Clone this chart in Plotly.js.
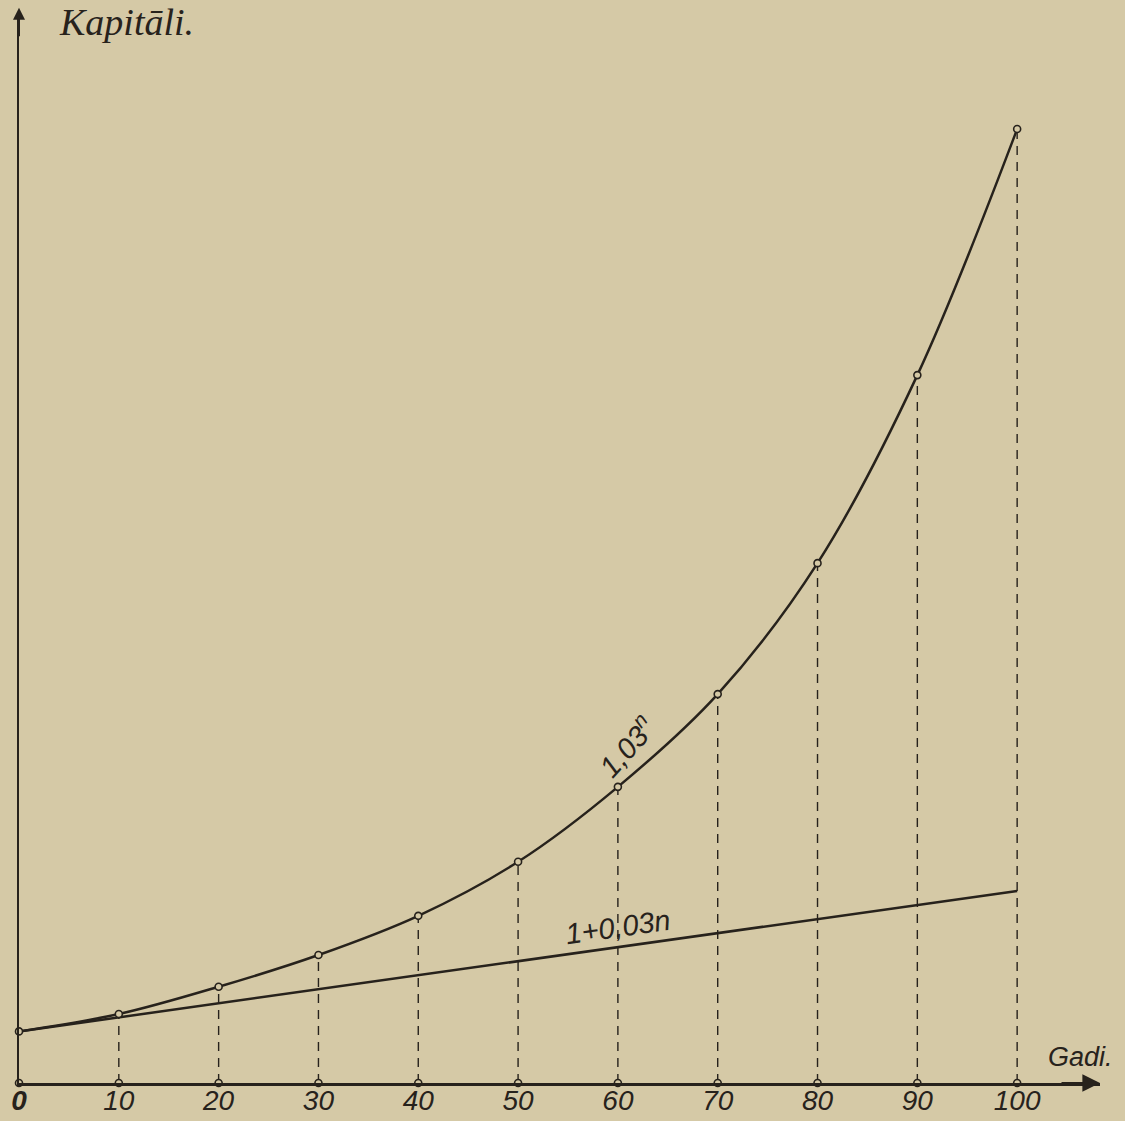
<!DOCTYPE html>
<html>
<head>
<meta charset="utf-8">
<script src="https://cdn.plot.ly/plotly-3.0.1.min.js"></script>
<style>
  html, body { margin: 0; padding: 0; background: #d5c9a6; }
  #chart { width: 1125px; height: 1121px; }
</style>
</head>
<body>
<div id="chart"></div>
<script>
// Years (Gadi)
const years = [0, 10, 20, 30, 40, 50, 60, 70, 80, 90, 100];
// Capital with compound interest 1,03^n
const compound = [1.04, 1.39, 1.94, 2.58, 3.37, 4.46, 5.97, 7.84, 10.48, 14.27, 19.23];
// Capital with simple interest 1+0,03n (straight line, end points)
const simpleYears = [0, 100];
const simple = [1.04, 3.87];
// Tick labels of the x axis
const tickLabels = ['<b>0</b>', '10', '20', '30', '40', '50', '60', '70', '80', '90', '100'];

const ink = '#27221c';
const paper = '#d5c9a6';

// dashed drop lines built from the data
const dropX = [], dropY = [];
years.forEach((x, i) => {
  if (x === 0) return;
  dropX.push(x, x, null);
  dropY.push(0, compound[i], null);
});

const traces = [
  {
    x: dropX, y: dropY, mode: 'lines', type: 'scatter',
    line: { color: ink, width: 1.4, dash: '9px,7px' },
    hoverinfo: 'skip', cliponaxis: false
  },
  {
    x: simpleYears, y: simple, mode: 'lines', type: 'scatter',
    line: { color: ink, width: 2.5 }, cliponaxis: false
  },
  {
    x: years, y: compound, mode: 'lines+markers', type: 'scatter',
    line: { color: ink, width: 2.5, shape: 'spline', smoothing: 1 },
    marker: { size: 7, color: paper, line: { color: ink, width: 1.6 } },
    cliponaxis: false
  },
  {
    x: years, y: years.map(() => 0), mode: 'markers', type: 'scatter',
    marker: { size: 7, color: paper, line: { color: ink, width: 1.6 } },
    cliponaxis: false
  }
];

const layout = {
  width: 1125, height: 1121,
  paper_bgcolor: paper, plot_bgcolor: paper,
  showlegend: false,
  margin: { l: 19, r: 25, t: 12, b: 38, pad: 0 },
  xaxis: {
    range: [0, 108.3],
    showgrid: false, zeroline: false,
    showline: true, linecolor: ink, linewidth: 2.5,
    tickmode: 'array', tickvals: years, ticktext: tickLabels,
    ticks: '', ticklen: 0, ticklabelstandoff: -9,
    tickfont: { family: 'Liberation Sans, Arial, sans-serif', size: 28, color: ink, style: 'italic' }
  },
  yaxis: {
    range: [0, 21.59],
    showgrid: false, zeroline: false,
    showline: true, linecolor: ink, linewidth: 2.5,
    showticklabels: false, ticks: ''
  },
  annotations: [
    { xref: 'paper', yref: 'paper', x: 1, y: 0, ax: -40, ay: 0, axref: 'pixel', ayref: 'pixel',
      text: '', showarrow: true, arrowhead: 2, arrowsize: 1.6, arrowwidth: 2.2, arrowcolor: ink },
    { xref: 'paper', yref: 'paper', x: 0, y: 1.004, ax: 0, ay: 30,
      text: '', showarrow: true, arrowhead: 2, arrowsize: 1.2, arrowwidth: 2, arrowcolor: ink },
    { xref: 'paper', yref: 'paper', x: 0.035, y: 1.012, xanchor: 'left', yanchor: 'top',
      text: 'Kapitāli.', showarrow: false,
      font: { family: 'Liberation Serif, Times New Roman, serif', size: 38, color: ink, style: 'italic' } },
    { xref: 'paper', yref: 'paper', x: 1.014, y: 0.008, xanchor: 'right', yanchor: 'bottom',
      text: 'Gadi.', showarrow: false,
      font: { family: 'Liberation Sans, Arial, sans-serif', size: 27, color: ink, style: 'italic' } },
    { xref: 'x', yref: 'y', x: 60.8, y: 6.8, xanchor: 'center', yanchor: 'middle',
      text: '1,03<sup>n</sup>', textangle: -48, showarrow: false,
      font: { family: 'Liberation Sans, Arial, sans-serif', size: 29, color: ink, style: 'italic' } },
    { xref: 'x', yref: 'y', x: 60, y: 3.15, xanchor: 'center', yanchor: 'middle',
      text: '1+0,03n', textangle: -8, showarrow: false,
      font: { family: 'Liberation Sans, Arial, sans-serif', size: 29, color: ink, style: 'italic' } }
  ]
};

Plotly.newPlot('chart', traces, layout, { displayModeBar: false, staticPlot: true });
</script>
</body>
</html>
